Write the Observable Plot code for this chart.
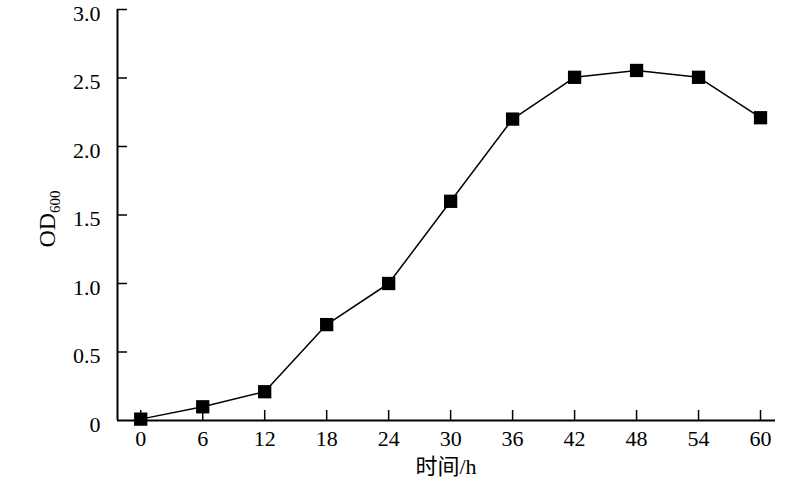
<!DOCTYPE html>
<html>
<head>
<meta charset="utf-8">
<script src="https://cdn.jsdelivr.net/npm/d3@7"></script>
<script src="https://cdn.jsdelivr.net/npm/@observablehq/plot@0.6"></script>
<style>
  html, body { margin: 0; padding: 0; background: #fff; }
  svg { font-family: "Liberation Serif", "Noto Sans CJK SC", serif; }
</style>
</head>
<body>
<div id="chart"></div>
<script>
const hours = [0, 6, 12, 18, 24, 30, 36, 42, 48, 54, 60];
const od600 = [0.01, 0.1, 0.21, 0.7, 1.0, 1.6, 2.2, 2.505, 2.555, 2.505, 2.21];
const xTicks = [0, 6, 12, 18, 24, 30, 36, 42, 48, 54, 60];
const yTicks = [0, 0.5, 1.0, 1.5, 2.0, 2.5, 3.0];
const xLabel = "时间/h";

const data = hours.map((h, i) => ({h, od: od600[i]}));
const yFmt = d => d === 0 ? "0" : d3.format(".1f")(d);

const chart = Plot.plot({
  width: 800,
  height: 486,
  marginLeft: 117,
  marginRight: 25,
  marginTop: 9,
  marginBottom: 66,
  style: {fontFamily: '"Liberation Serif", "Noto Sans CJK SC", serif', fontSize: "22px", color: "#000", background: "#fff", overflow: "visible"},
  x: {domain: [-2.25, 61.45]},
  y: {domain: [0, 3.0]},
  marks: [
    // axis lines
    Plot.ruleX([-2.25], {stroke: "#000", strokeWidth: 2}),
    Plot.ruleY([0], {stroke: "#000", strokeWidth: 2}),
    // inward ticks
    Plot.axisX({ticks: xTicks, tickSize: -10, tickFormat: () => "", stroke: "#000", strokeWidth: 1.5, label: null}),
    Plot.axisY({ticks: yTicks.filter(d => d > 0), tickSize: -10, tickFormat: () => "", stroke: "#000", strokeWidth: 1.5, label: null}),
    // tick labels
    Plot.axisX({ticks: xTicks, tickSize: 0, tickPadding: 10, fontSize: 22, label: null}),
    Plot.axisY({ticks: yTicks, tickSize: 0, tickPadding: 17, dy: 4, tickFormat: yFmt, fontSize: 22, label: null}),
    // data
    Plot.line(data, {x: "h", y: "od", stroke: "#000", strokeWidth: 1.5}),
    Plot.dot(data, {x: "h", y: "od", symbol: "square", r: 7.5, fill: "#000", stroke: "none"})
  ]
});

const svg = d3.select(chart);
svg.append("text")
  .attr("x", 446).attr("y", 474)
  .attr("text-anchor", "middle")
  .attr("font-size", 22)
  .attr("fill", "#000")
  .text(xLabel);

const yl = svg.append("text")
  .attr("transform", "translate(55,219) rotate(-90)")
  .attr("text-anchor", "middle")
  .attr("font-size", 24)
  .attr("fill", "#000");
yl.append("tspan").text("OD");
yl.append("tspan").attr("font-size", 15).attr("dy", 5).text("600");

document.getElementById("chart").appendChild(chart);
</script>
</body>
</html>
